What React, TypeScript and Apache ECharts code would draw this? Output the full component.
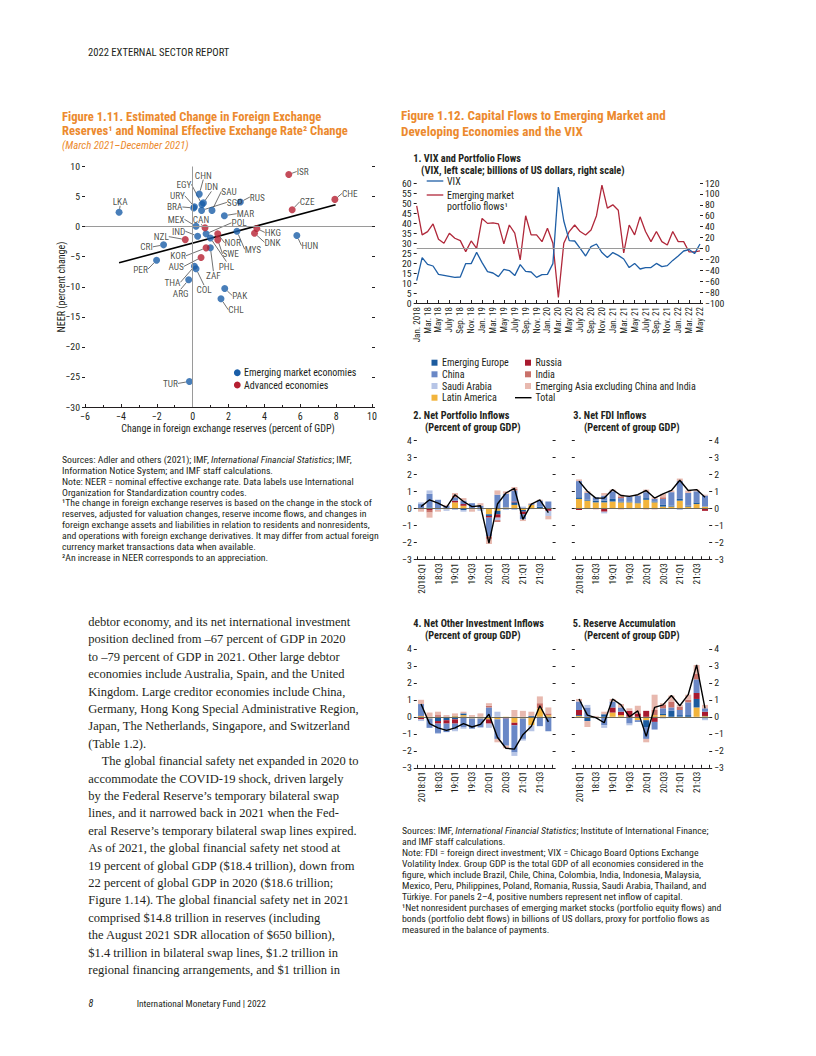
import React, { useEffect, useRef } from "react";
import * as echarts from "echarts";

const COND = "'Liberation Sans Narrow','Arial Narrow','Roboto Condensed',sans-serif";
const SERIF = "'Liberation Serif','Times New Roman',serif";
const INK = "#231f20";
const ORANGE = "#EC8A2E";
const BLUE = "#1a5ea8";
const RED = "#b51f31";

// ---------- Figure 1.11 data ----------
const emCodes = ["LKA","CHN","EGY","IDN","URY","BRA","SAU","SGP","RUS","MAR","MEX","POL","IND","CRI","PHL","ZAF","PER","THA","COL","ARG","PAK","CHL","MYS","HUN","TUR"];
const emReserves = [-4.1,0.37,0.52,0.6,0.1,0.06,1.08,0.5,2.66,1.77,0.19,0.75,0.28,-1.62,0.99,0.99,-2.01,0.1,0.19,-0.22,1.79,1.58,2.47,5.81,-0.18];
const emNeer = [2.38,5.41,3.7,3.95,3.3,3.1,2.7,2.7,4.09,1.82,0.05,-1.2,-1.6,-3.03,-1.9,-3.5,-5.58,-6.6,-7.0,-8.85,-10.3,-12.0,-0.77,-1.49,-25.75];
const aeCodes = ["ISR","CHE","CZE","CAN","NZL","KOR","AUS","NOR","SWE","HKG","DNK"];
const aeReserves = [5.36,7.93,5.55,0.69,-0.41,0.75,0.47,1.4,1.4,3.58,3.45];
const aeNeer = [8.67,4.53,2.82,-0.2,-2.16,-3.53,-5.13,-1.2,-2.2,-0.3,-1.1];
const fitLine = [[-4.1,-6.02],[7.97,3.65]];

// label displacement (px) for country codes
const labelOffsets: Record<string, number[]> = {
  LKA:[1,-11], ISR:[14,-3], CHE:[15,-6], CZE:[15,-8], RUS:[17,-5], CHN:[4,-19], EGY:[-18,-20], IDN:[8,-16],
  URY:[-17,-11], BRA:[-19,-1], SAU:[17,-19], SGP:[33,-8], MAR:[21,-2], MEX:[-20,-7], CAN:[-4,-8], POL:[33,-11],
  IND:[-19,-5], NZL:[-24,-3], CRI:[-17,2], KOR:[-28,8], ZAF:[3,28], PHL:[16,28], NOR:[15,9], SWE:[13,14],
  AUS:[-25,9], PER:[-16,9], THA:[-22,16], COL:[8,21], ARG:[-8,14], PAK:[15,7], CHL:[15,11], MYS:[16,18],
  HKG:[16,4], DNK:[18,9], HUN:[13,10], TUR:[-19,2],
};

// ---------- Figure 1.12 panel 1 ----------
const monthAbbr = ["Jan.","Feb.","Mar.","Apr.","May","June","July","Aug.","Sep.","Oct.","Nov.","Dec."];
const monthYears = ["18","19","20","21","22"];
const monthCount = 53;
const months: string[] = [];
for (let i = 0; i < monthCount; i++) {
  const y = monthYears[Math.floor(i / 12)];
  const m = monthAbbr[i % 12];
  months.push(i === 0 ? "Jan. 2018" : m + " " + y);
}
const vix = [11.2,22.7,19.3,18.5,14.3,13.8,13.3,12.8,13.0,19.7,19.7,25.3,20.2,15.7,15.0,13.2,16.8,16.2,13.7,19.2,15.8,15.5,12.8,14.2,14.3,19.7,58,41,31.2,31.0,27.3,23.5,28.2,29.5,25.2,22.7,25.2,23.8,22.0,17.7,19.8,17.0,17.7,17.7,19.8,18.2,18.7,21.3,23.5,26.0,26.7,24.7,29.5];
const portfolioFlows = [78,24.8,30.8,45,16.9,9.5,27.9,18.7,14.3,-5.8,13.8,0,55,46,47,45,8.3,43,28,-21,60,24.8,24.8,12.5,37,9.5,-90,9.5,31,43,31,24.8,34,60,116,74,80,70,-8,43,24.8,58,31,12.5,31,12.5,6.4,31,12.5,12.5,-6.4,-6.4,-4.6];
const vixTicks = { min: 0, max: 60, interval: 5 };
const flowTicks = { min: -100, max: 120, interval: 20 };

// ---------- Figure 1.12 panels 2–5 ----------
const quarters = ["2018:Q1","18:Q2","18:Q3","18:Q4","19:Q1","19:Q2","19:Q3","19:Q4","20:Q1","20:Q2","20:Q3","20:Q4","21:Q1","21:Q2","21:Q3","21:Q4"];
const groupNames = ["Latin America","Emerging Europe","Russia","China","Saudi Arabia","India","Emerging Asia excluding China and India"];
const groupColors = ["#F2B43C","#1C5B9E","#A8192E","#6A88C6","#B7C5E6","#C9716A","#E8B9AF"];

// Panel 2: net portfolio inflows
const pfLatAm  = [0,0,0,-0.05,0.35,0.15,-0.05,0,-0.35,-0.15,0.05,0.2,-0.1,0.2,0,0];
const pfEmEur  = [0,0.05,0,0,0,-0.1,0,-0.05,-0.1,-0.2,0,0.15,-0.1,0,0.1,0];
const pfRussia = [0,-0.1,0,0,0.1,0.1,0,0,-0.1,-0.2,0,0.05,-0.15,0,0,-0.15];
const pfChina  = [0.25,0.8,0.5,0.15,0.2,0.2,0.3,0.15,-1.1,0.8,0.8,0.65,-0.3,0.05,0.35,0.4];
const pfSaudi  = [0.1,0.2,-0.1,-0.1,-0.1,-0.1,0,-0.1,0,-0.15,-0.1,-0.1,0.1,-0.05,0,-0.3];
const pfIndia  = [0,-0.15,0,0,0.1,0,0,0,-0.15,-0.1,0,0.1,0,0,0,0];
const pfEmAsia = [-0.2,-0.3,-0.1,0.05,0.15,0.15,-0.15,0.15,-0.3,0.25,0.15,0.1,-0.1,0.05,0.05,-0.2];
const pfTotal  = [0.1,0.5,0.3,0.05,0.8,0.4,0.1,0.15,-2.05,0.25,0.9,1.18,-0.65,0.25,0.5,-0.25];

// Panel 3: net FDI inflows
const fdiLatAm  = [0.55,0.45,0.35,0.35,0.4,0.35,0.35,0.3,0.5,0.35,0.1,0.1,0.45,0.1,0.25,0.1];
const fdiEmEur  = [0.1,0.05,0.1,0.1,0.15,0.05,0.05,0.05,0.1,0.05,0.1,0.05,0.1,0.05,0.1,0];
const fdiRussia = [-0.1,0,-0.05,-0.2,0,-0.05,0,0,-0.05,-0.05,0,0,0,0,0,-0.15];
const fdiChina  = [0.95,0.4,0.2,0.3,0.45,0.2,0.3,0.4,0.35,0.15,0.35,0.8,1.05,0.75,0.65,0.65];
const fdiSaudi  = [0,0,0,-0.1,0,0,-0.05,0,0,0,0,0,-0.1,0,0,0];
const fdiIndia  = [0,0,0,0,0,0.1,0,0,0,0,0.1,0,0,0,0,0];
const fdiEmAsia = [0.1,0.1,0,0.15,0.1,0.1,0.05,0.05,0.15,0.1,0.2,0.1,0.15,0.15,0.1,0.05];
const fdiTotal  = [1.6,1.0,0.6,0.6,1.1,0.75,0.7,0.8,1.05,0.6,0.85,1.05,1.65,1.05,1.1,0.65];

// Panel 4: net other investment inflows
const oiLatAm  = [0.05,-0.1,0,0,0.05,0.1,-0.1,-0.1,-0.15,-0.15,-0.05,-0.35,-0.1,-0.5,0.5,0.1];
const oiEmEur  = [0,0,-0.25,-0.2,-0.15,0.1,0,0,0,0,0,0,0,0.05,0,0];
const oiRussia = [-0.15,0,-0.15,-0.2,-0.25,0,0,0,-0.25,0,-0.05,-0.15,0,0,0,0];
const oiChina  = [0.7,-0.55,-0.55,-0.5,-0.35,-0.6,-0.6,-0.5,0.55,-1.15,-1.6,-1.6,-1.2,0,-0.55,-0.85];
const oiSaudi  = [-0.1,0,-0.05,0,-0.1,-0.1,0,-0.05,-0.25,0.3,0,-0.2,-0.1,-0.35,0,0];
const oiIndia  = [0,0,0.1,0,0,0,0,0,0.1,0,0,0,0,0,0.3,0.1];
const oiEmAsia = [0.25,0.25,0.2,0.1,0.15,0.1,0.1,0.2,0.15,-0.2,-0.15,0.4,0.35,0.25,0.4,0.35];
const oiTotal  = [0.75,-0.4,-0.65,-0.8,-0.65,-0.4,-0.6,-0.45,0.15,-1.2,-1.85,-1.9,-1.05,-0.55,0.65,-0.3];

// Panel 5: reserve accumulation
const raLatAm  = [0.05,0,0,0,0.25,0.1,0,-0.2,-0.2,0.1,0.1,0,0,0,0.55,0.05];
const raEmEur  = [0.05,-0.25,0,0.15,0,0,0,0,-0.4,0,0.1,0.35,0.1,0.1,0.5,-0.1];
const raRussia = [0.3,0,0,0,0.3,0.2,0.35,0.2,0.35,-0.3,0,0,0,0,0.35,0.25];
const raChina  = [0.5,0.55,0,-0.5,0.35,0.25,-0.4,-0.1,-0.7,-0.45,0.3,0.2,0.3,0.75,0.8,0.2];
const raSaudi  = [0,0.15,-0.1,-0.15,0,-0.05,-0.1,0,0,0,-0.1,0,-0.05,0,0,-0.1];
const raIndia  = [0,0,0,0,0,0,0,0,0,0.3,0.2,0.35,0.2,0.15,0.35,0];
const raEmAsia = [0.15,-0.35,0.05,0.15,0.15,0.2,0.15,0.45,-0.2,0.9,0.1,0.35,0.1,0.3,0.5,0.2];
const raTotal  = [1.05,0.1,-0.05,-0.35,1.05,0.7,0.0,0.35,-1.15,0.55,0.7,1.25,0.65,1.3,3.05,0.5];

const panelTicks = { min: -3, max: 4, interval: 1 };

// ---------- Texts ----------
const bodyLines = [
  "debtor economy, and its net international investment",
  "position declined from \u201367 percent of GDP in 2020",
  "to \u201379 percent of GDP in 2021. Other large debtor",
  "economies include Australia, Spain, and the United",
  "Kingdom. Large creditor economies include China,",
  "Germany, Hong Kong Special Administrative Region,",
  "Japan, The Netherlands, Singapore, and Switzerland",
  "(Table 1.2).",
  "The global financial safety net expanded in 2020 to",
  "accommodate the COVID-19 shock, driven largely",
  "by the Federal Reserve\u2019s temporary bilateral swap",
  "lines, and it narrowed back in 2021 when the Fed-",
  "eral Reserve\u2019s temporary bilateral swap lines expired.",
  "As of 2021, the global financial safety net stood at",
  "19 percent of global GDP ($18.4 trillion), down from",
  "22 percent of global GDP in 2020 ($18.6 trillion;",
  "Figure 1.14). The global financial safety net in 2021",
  "comprised $14.8 trillion in reserves (including",
  "the August 2021 SDR allocation of $650 billion),",
  "$1.4 trillion in bilateral swap lines, $1.2 trillion in",
  "regional financing arrangements, and $1 trillion in",
];
const leftNotes = [
  "Sources: Adler and others (2021); IMF, {i|International Financial Statistics}; IMF,",
  "Information Notice System; and IMF staff calculations.",
  "Note: NEER = nominal effective exchange rate. Data labels use International",
  "Organization for Standardization country codes.",
  "\u00b9The change in foreign exchange reserves is based on the change in the stock of",
  "reserves, adjusted for valuation changes, reserve income flows, and changes in",
  "foreign exchange assets and liabilities in relation to residents and nonresidents,",
  "and operations with foreign exchange derivatives. It may differ from actual foreign",
  "currency market transactions data when available.",
  "\u00b2An increase in NEER corresponds to an appreciation.",
];
const rightNotes = [
  "Sources: IMF, {i|International Financial Statistics}; Institute of International Finance;",
  "and IMF staff calculations.",
  "Note: FDI = foreign direct investment; VIX = Chicago Board Options Exchange",
  "Volatility Index. Group GDP is the total GDP of all economies considered in the",
  "figure, which include Brazil, Chile, China, Colombia, India, Indonesia, Malaysia,",
  "Mexico, Peru, Philippines, Poland, Romania, Russia, Saudi Arabia, Thailand, and",
  "T\u00fcrkiye. For panels 2\u20134, positive numbers represent net inflow of capital.",
  "\u00b9Net nonresident purchases of emerging market stocks (portfolio equity flows) and",
  "bonds (portfolio debt flows) in billions of US dollars, proxy for portfolio flows as",
  "measured in the balance of payments.",
];

const neg = (v: number) => (v < 0 ? "\u2212" + Math.abs(v) : String(v));

function txt(x: number, y: number, text: string, o: any = {}) {
  const size = o.size || 9;
  const family = o.family || COND;
  const fill = o.fill || INK;
  return {
    type: "text", x, y, silent: true, rotation: o.rotation || 0,
    style: {
      text, fill, fontSize: size, fontFamily: family,
      fontWeight: o.weight || "normal", fontStyle: o.style || "normal",
      align: o.align || "left", verticalAlign: "middle",
      textAlign: o.align || "left", textVerticalAlign: "middle",
      rich: { i: { fontStyle: "italic", fontSize: size, fontFamily: family, fill } },
    },
  };
}

function buildOption() {
  const axisLbl = (size: number) => ({ fontSize: size, fontFamily: COND, color: INK });
  const grids = [
    { left: 85, top: 166.5, width: 287, height: 240.5 },
    { left: 416.7, top: 183, width: 283.3, height: 120 },
    { left: 416.8, top: 440.3, width: 135.8, height: 119 },
    { left: 574.8, top: 440.3, width: 134.4, height: 119 },
    { left: 416.8, top: 648.8, width: 135.8, height: 119 },
    { left: 574.8, top: 648.8, width: 134.4, height: 119 },
  ].map((g) => ({ ...g, containLabel: false, outerBoundsMode: "none" }));

  const panelX = (gi: number) => ({
    type: "category", gridIndex: gi, data: quarters, boundaryGap: true,
    axisLine: { show: true, onZero: false, lineStyle: { color: INK, width: 1 } },
    axisTick: { show: true, inside: true, length: 3, interval: 0, lineStyle: { color: INK } },
    axisLabel: { ...axisLbl(9.2), interval: 1, rotate: 90, margin: 4 },
    splitLine: { show: false },
  });
  const valY = (gi: number, t: any, pos: string, labels: boolean, size = 9.8) => ({
    type: "value", gridIndex: gi, position: pos, min: t.min, max: t.max, interval: t.interval,
    axisLine: { show: false, onZero: false },
    axisTick: { show: true, length: 3, lineStyle: { color: INK } },
    axisLabel: { ...axisLbl(size), show: labels, margin: 5, formatter: neg },
    splitLine: { show: false },
  });

  const xAxis = [
    {
      type: "value", gridIndex: 0, min: -6, max: 10, interval: 2,
      axisLine: { show: true, onZero: false, lineStyle: { color: INK } },
      axisTick: { show: true, inside: true, length: 3, lineStyle: { color: INK } },
      minorTick: { show: true, splitNumber: 2, length: 2, lineStyle: { color: INK } },
      axisLabel: { ...axisLbl(10), margin: 4, formatter: neg },
      splitLine: { show: false },
    },
    {
      type: "category", gridIndex: 1, data: months, boundaryGap: false,
      axisLine: { show: true, onZero: false, lineStyle: { color: INK } },
      axisTick: { show: true, inside: true, length: 3, interval: 1, lineStyle: { color: INK } },
      axisLabel: { ...axisLbl(9), interval: 1, rotate: 90, margin: 4 },
      splitLine: { show: false },
    },
    panelX(2), panelX(3), panelX(4), panelX(5),
  ];
  const yAxis = [
    valY(0, { min: -30, max: 10, interval: 5 }, "left", true, 9.8),
    valY(0, { min: -30, max: 10, interval: 5 }, "right", false),
    valY(1, vixTicks, "left", true),
    valY(1, flowTicks, "right", true),
    valY(2, panelTicks, "left", true),
    valY(2, panelTicks, "right", false),
    valY(3, panelTicks, "left", false),
    valY(3, panelTicks, "right", true),
    valY(4, panelTicks, "left", true),
    valY(4, panelTicks, "right", false),
    valY(5, panelTicks, "left", false),
    valY(5, panelTicks, "right", true),
  ];

  const mkLayout = (codes: string[]) => (p: any) => {
    const o = labelOffsets[codes[p.dataIndex]] || [0, -10];
    return {
      x: p.rect.x + p.rect.width / 2 + o[0],
      y: p.rect.y + p.rect.height / 2 + o[1],
      align: "center", verticalAlign: "middle",
    };
  };
  const scatterSeries = (name: string, codes: string[], xs: number[], ys: number[], color: string) => ({
    name, type: "scatter", xAxisIndex: 0, yAxisIndex: 0, z: 4,
    symbolSize: 7, itemStyle: { color },
    data: codes.map((c, i) => ({ name: c, value: [xs[i], ys[i]] })),
    label: { show: true, formatter: "{b}", fontSize: 9.3, fontFamily: COND, color: INK },
    labelLayout: mkLayout(codes),
    labelLine: { show: true, length2: 0, lineStyle: { color: "#333", width: 0.7 } },
  });

  const series: any[] = [
    {
      type: "line", xAxisIndex: 0, yAxisIndex: 0, data: fitLine, symbol: "none", z: 2,
      lineStyle: { color: "#000", width: 1.6 },
      markLine: {
        silent: true, symbol: "none", label: { show: false },
        lineStyle: { color: "#9a9a9a", width: 1, type: "solid" },
        data: [{ xAxis: 0 }, { yAxis: 0 }],
      },
    },
    scatterSeries("Emerging market economies", emCodes, emReserves, emNeer, BLUE),
    scatterSeries("Advanced economies", aeCodes, aeReserves, aeNeer, RED),
    {
      name: "VIX", type: "line", xAxisIndex: 1, yAxisIndex: 2, data: vix, symbol: "none", z: 3,
      lineStyle: { color: "#1f5fa6", width: 1.3 },
    },
    {
      name: "Emerging market portfolio flows", type: "line", xAxisIndex: 1, yAxisIndex: 3,
      data: portfolioFlows, symbol: "none", z: 2,
      lineStyle: { color: "#b0283a", width: 1.3 },
      markLine: {
        silent: true, symbol: "none", label: { show: false },
        lineStyle: { color: "#9a9a9a", width: 1, type: "solid" }, data: [{ yAxis: 0 }],
      },
    },
  ];

  const panels = [
    { gi: 2, y: 4, comps: [pfLatAm, pfEmEur, pfRussia, pfChina, pfSaudi, pfIndia, pfEmAsia], total: pfTotal },
    { gi: 3, y: 6, comps: [fdiLatAm, fdiEmEur, fdiRussia, fdiChina, fdiSaudi, fdiIndia, fdiEmAsia], total: fdiTotal },
    { gi: 4, y: 8, comps: [oiLatAm, oiEmEur, oiRussia, oiChina, oiSaudi, oiIndia, oiEmAsia], total: oiTotal },
    { gi: 5, y: 10, comps: [raLatAm, raEmEur, raRussia, raChina, raSaudi, raIndia, raEmAsia], total: raTotal },
  ];
  panels.forEach((p) => {
    p.comps.forEach((arr, k) => {
      series.push({
        name: groupNames[k], type: "bar", xAxisIndex: p.gi, yAxisIndex: p.y,
        stack: "s" + p.gi, data: arr, barWidth: 6, z: 2,
        itemStyle: { color: groupColors[k] },
        ...(k === 0
          ? {
              markLine: {
                silent: true, symbol: "none", label: { show: false }, z: 3,
                lineStyle: { color: "#6e6a5a", width: 1, type: "solid" }, data: [{ yAxis: 0 }],
              },
            }
          : {}),
      });
    });
    series.push({
      name: "Total", type: "line", xAxisIndex: p.gi, yAxisIndex: p.y, data: p.total,
      symbol: "none", z: 5, lineStyle: { color: "#000", width: 1.4 },
    });
  });

  // ---------- graphics ----------
  const g: any[] = [];
  g.push(txt(88, 52.7, "2022 EXTERNAL SECTOR REPORT", { size: 10.6 }));
  // Figure 1.11 title
  g.push(txt(62, 116, "Figure 1.11. Estimated Change in Foreign Exchange", { size: 12.6, weight: "bold", fill: ORANGE }));
  g.push(txt(62, 130.7, "Reserves\u00b9 and Nominal Effective Exchange Rate\u00b2 Change", { size: 12.6, weight: "bold", fill: ORANGE }));
  g.push(txt(62, 145, "(March 2021\u2013December 2021)", { size: 10.8, style: "italic", fill: ORANGE }));
  // axis names
  g.push(txt(61.5, 287, "NEER (percent change)", { size: 10, align: "center", rotation: Math.PI / 2 }));
  g.push(txt(228, 428.3, "Change in foreign exchange reserves (percent of GDP)", { size: 10, align: "center" }));
  // scatter legend
  g.push({ type: "circle", silent: true, shape: { cx: 237.3, cy: 372.7, r: 3.4 }, style: { fill: BLUE } });
  g.push({ type: "circle", silent: true, shape: { cx: 237.3, cy: 385, r: 3.4 }, style: { fill: RED } });
  g.push(txt(244, 372.7, "Emerging market economies", { size: 10 }));
  g.push(txt(244, 385, "Advanced economies", { size: 10 }));
  // left notes
  leftNotes.forEach((l, i) => g.push(txt(62, 459.3 + i * 10.9, l, { size: 9.8 })));
  // body
  bodyLines.forEach((l, i) => g.push(txt(i === 8 ? 101.7 : 88.3, 622 + i * 17.4, l, { size: 12.5, family: SERIF })));
  // footer
  g.push(txt(88.5, 1003.3, "8", { size: 10, style: "italic" }));
  g.push(txt(136.7, 1003.3, "International Monetary Fund | 2022", { size: 9.4 }));

  // Figure 1.12 title
  g.push(txt(401, 115, "Figure 1.12. Capital Flows to Emerging Market and", { size: 13.1, weight: "bold", fill: ORANGE }));
  g.push(txt(401, 131, "Developing Economies and the VIX", { size: 13.1, weight: "bold", fill: ORANGE }));
  g.push(txt(413.3, 158.3, "1. VIX and Portfolio Flows", { size: 10.3, weight: "bold" }));
  g.push(txt(421, 170.7, "(VIX, left scale; billions of US dollars, right scale)", { size: 10.3, weight: "bold" }));
  // panel 1 legend
  g.push({ type: "line", silent: true, shape: { x1: 426.7, y1: 181, x2: 443.3, y2: 181 }, style: { stroke: "#1f5fa6", lineWidth: 1.3 } });
  g.push({ type: "line", silent: true, shape: { x1: 426.7, y1: 195, x2: 443.3, y2: 195 }, style: { stroke: "#b0283a", lineWidth: 1.3 } });
  g.push(txt(447, 181, "VIX", { size: 10 }));
  g.push(txt(447, 195, "Emerging market", { size: 10 }));
  g.push(txt(447, 206.5, "portfolio flows\u00b9", { size: 10 }));
  // group legend
  const legendRows = [362.7, 374.3, 386, 397.7];
  const legendOrder = [1, 3, 4, 0, 2, 5, 6];
  legendOrder.forEach((k, j) => {
    const col = j < 4 ? 0 : 1;
    const row = j < 4 ? j : j - 4;
    const sx = col === 0 ? 431.5 : 525;
    g.push({ type: "rect", silent: true, shape: { x: sx, y: legendRows[row] - 3, width: 6, height: 6 }, style: { fill: groupColors[k] } });
    g.push(txt(sx + 10.5, legendRows[row], groupNames[k], { size: 10 }));
  });
  g.push({ type: "line", silent: true, shape: { x1: 515, y1: 397.7, x2: 531.5, y2: 397.7 }, style: { stroke: "#000", lineWidth: 1.4 } });
  g.push(txt(535.5, 397.7, "Total", { size: 10 }));
  // panel titles
  const pt = { size: 10.3, weight: "bold" };
  g.push(txt(413.3, 415, "2. Net Portfolio Inflows", pt));
  g.push(txt(425, 427.5, "(Percent of group GDP)", pt));
  g.push(txt(573.3, 415, "3. Net FDI Inflows", pt));
  g.push(txt(584, 427.5, "(Percent of group GDP)", pt));
  g.push(txt(413.3, 623.3, "4. Net Other Investment Inflows", pt));
  g.push(txt(425, 635.5, "(Percent of group GDP)", pt));
  g.push(txt(572.7, 623.3, "5. Reserve Accumulation", pt));
  g.push(txt(584, 635.5, "(Percent of group GDP)", pt));
  // right notes
  rightNotes.forEach((l, i) => g.push(txt(402, 830 + i * 11, l, { size: 9.8 })));

  return {
    animation: false,
    backgroundColor: "#ffffff",
    textStyle: { fontFamily: COND },
    grid: grids,
    xAxis,
    yAxis,
    series,
    graphic: { elements: g },
  };
}

export default function App() {
  const ref = useRef<HTMLDivElement>(null);
  useEffect(() => {
    if (!ref.current) return;
    const chart = echarts.init(ref.current, undefined, { renderer: "svg" });
    chart.setOption(buildOption() as any);
    return () => chart.dispose();
  }, []);
  return (
    <div
      ref={ref}
      style={{ position: "absolute", left: 0, top: 0, width: 816, height: 1056, background: "#fff" }}
    />
  );
}
